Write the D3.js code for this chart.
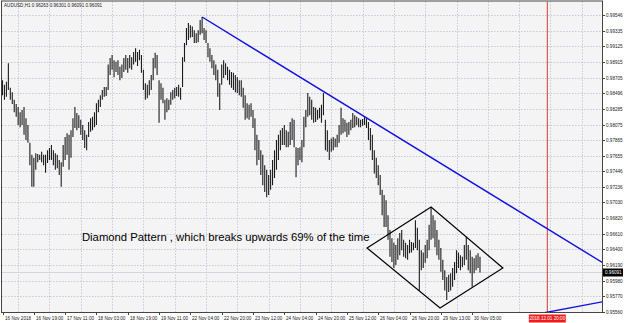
<!DOCTYPE html>
<html>
<head>
<meta charset="utf-8">
<script src="https://cdn.jsdelivr.net/npm/d3@7"></script>
<style>
body { margin: 0; background: #fff; }
text { font-family: "Liberation Sans", Arial, sans-serif; }
</style>
</head>
<body>
<svg width="625" height="323"></svg>
<script>
// chart values

var symbolTitle = 'AUDUSD,H1  0.96263 0.96301 0.96091 0.96091';

// one label every 16 bars
var timeLabels = ['16 Nov 2018', '16 Nov 19:00', '17 Nov 11:00', '18 Nov 03:00',
    '18 Nov 19:00', '19 Nov 11:00', '22 Nov 04:00', '22 Nov 20:00', '23 Nov 12:00',
    '24 Nov 04:00', '24 Nov 20:00', '25 Nov 12:00', '26 Nov 04:00', '26 Nov 20:00',
    '29 Nov 13:00', '30 Nov 05:00'];

var priceTicks = [0.99546, 0.99335, 0.99125, 0.98915, 0.98705, 0.98496, 0.98285,
    0.98075, 0.97865, 0.97655, 0.97446, 0.97236, 0.97030, 0.96820, 0.96610,
    0.96400, 0.96190, 0.95980, 0.95770, 0.95560];

var barHigh = [
    .9867, .9861, .9865, .9890, .9857, .9851, .9841, .9835, .9831, .9824, .9827, .9831, .9816, .9807, .9783, .9767,
    .9763, .9769, .9768, .9767, .9771, .9767, .9767, .9773, .9776, .9780, .9773, .9769, .9767, .9760, .9757, .9780,
    .9791, .9796, .9794, .9800, .9816, .9831, .9823, .9820, .9814, .9807, .9800, .9794, .9811, .9816, .9818, .9824,
    .9836, .9841, .9847, .9854, .9858, .9858, .9888, .9897, .9901, .9894, .9892, .9894, .9885, .9888, .9897, .9901,
    .9897, .9901, .9898, .9905, .9910, .9905, .9908, .9901, .9881, .9863, .9861, .9867, .9874, .9897, .9904, .9901,
    .9867, .9863, .9857, .9841, .9843, .9841, .9851, .9854, .9857, .9858, .9861, .9857, .9898, .9917, .9937, .9944,
    .9941, .9939, .9934, .9930, .9934, .9948, .9952, .9937, .9934, .9917, .9910, .9901, .9894, .9888, .9881, .9863,
    .9888, .9894, .9890, .9885, .9881, .9878, .9877, .9874, .9871, .9867, .9867, .9857, .9847, .9836, .9834, .9836,
    .9827, .9816, .9794, .9787, .9773, .9767, .9753, .9747, .9740, .9747, .9760, .9773, .9787, .9794, .9800, .9803,
    .9807, .9800, .9798, .9811, .9816, .9814, .9777, .9776, .9777, .9787, .9818, .9827, .9850, .9845, .9841, .9831,
    .9830, .9827, .9830, .9834, .9850, .9814, .9800, .9787, .9789, .9791, .9789, .9794, .9807, .9830, .9816, .9814,
    .9810, .9811, .9814, .9823, .9820, .9818, .9816, .9814, .9815, .9818, .9816, .9811, .9803, .9794, .9773, .9763,
    .9753, .9740, .9720, .9713, .9706, .9686, .9666, .9655, .9649, .9646, .9655, .9662, .9666, .9653, .9649, .9646,
    .9653, .9650, .9649, .9679, .9669, .9653, .9639, .9636, .9646, .9653, .9673, .9697, .9686, .9679, .9666, .9653,
    .9642, .9626, .9612, .9603, .9606, .9608, .9615, .9623, .9639, .9636, .9632, .9630, .9646, .9657, .9646, .9639,
    .9630, .9628, .9632, .9635, .96301];

var barLow = [
    .9847, .9841, .9845, .9854, .9841, .9835, .9824, .9818, .9807, .9804, .9807, .9794, .9787, .9783, .9753, .9724,
    .9724, .9747, .9757, .9760, .9757, .9753, .9743, .9756, .9760, .9760, .9753, .9747, .9749, .9740, .9724, .9751,
    .9760, .9767, .9747, .9763, .9791, .9803, .9800, .9803, .9794, .9787, .9776, .9773, .9791, .9798, .9800, .9804,
    .9807, .9824, .9831, .9841, .9845, .9846, .9854, .9874, .9881, .9871, .9878, .9874, .9867, .9870, .9878, .9881,
    .9877, .9883, .9881, .9888, .9892, .9886, .9894, .9877, .9854, .9841, .9843, .9847, .9854, .9867, .9883, .9874,
    .9810, .9841, .9836, .9814, .9824, .9827, .9834, .9841, .9843, .9846, .9845, .9841, .9858, .9892, .9914, .9921,
    .9924, .9925, .9917, .9917, .9918, .9928, .9930, .9921, .9917, .9898, .9892, .9883, .9874, .9867, .9845, .9827,
    .9861, .9870, .9874, .9867, .9861, .9857, .9854, .9851, .9850, .9847, .9845, .9830, .9814, .9816, .9814, .9818,
    .9803, .9773, .9753, .9760, .9740, .9726, .9717, .9710, .9713, .9720, .9726, .9736, .9747, .9760, .9773, .9780,
    .9780, .9777, .9777, .9780, .9787, .9777, .9737, .9753, .9760, .9757, .9777, .9804, .9818, .9820, .9814, .9810,
    .9811, .9814, .9816, .9810, .9820, .9773, .9771, .9760, .9771, .9773, .9777, .9777, .9783, .9794, .9796, .9798,
    .9791, .9794, .9800, .9803, .9804, .9807, .9804, .9804, .9806, .9807, .9803, .9787, .9773, .9760, .9742, .9736,
    .9726, .9713, .9686, .9670, .9670, .9653, .9630, .9623, .9615, .9619, .9626, .9632, .9639, .9630, .9628, .9626,
    .9635, .9636, .9639, .9642, .9639, .9585, .9612, .9615, .9622, .9628, .9639, .9653, .9655, .9643, .9632, .9626,
    .9610, .9599, .9585, .9572, .9583, .9585, .9590, .9599, .9608, .9615, .9612, .9616, .9619, .9626, .9612, .9608,
    .9590, .9608, .9612, .9615, .96091];

var lastPrice = 0.96091;

// drawn objects: [bar index, price]
var mainTrend = [[102, 0.99519], [166, 0.98488]];
var lowerTrend = [[276, 0.95546], [306, 0.95694]];
var diamondPoints = [[186.3, 0.96419], [219, 0.96969], [255.7, 0.96150], [223.6, 0.95614]];
var cursorBar = 278.4;
var cursorLabel = '2018.12.01 20:00';
var noteText = 'Diamond Pattern , which breaks upwards 69% of the time';
var noteBar = 40.6;
var notePrice = 0.96513;

var svg = d3.select('svg');
var plot = {l: 2, t: 1.5, r: 602, b: 312};
var barsPerLabel = 16;

var xScale = d3.scaleLinear().domain([0, 306.5]).range([2.5, 602.3]);
var yScale = d3.scaleLinear().domain([0.95560, 0.99546]).range([312, 15]);

svg.append('rect')
    .attr('x', plot.l).attr('y', plot.t)
    .attr('width', plot.r - plot.l).attr('height', plot.b - plot.t)
    .attr('fill', '#f4f4f4');

svg.append('clipPath').attr('id', 'plotClip')
    .append('rect')
    .attr('x', plot.l).attr('y', plot.t)
    .attr('width', plot.r - plot.l).attr('height', plot.b - plot.t);

var gridG = svg.append('g').attr('class', 'grid');

// horizontal grid on the price ticks
gridG.selectAll('.hgrid')
    .data(priceTicks)
    .enter().append('line')
    .attr('x1', plot.l).attr('x2', plot.r)
    .attr('y1', function(d) { return Math.round(yScale(d)) + 0.5; })
    .attr('y2', function(d) { return Math.round(yScale(d)) + 0.5; })
    .attr('stroke', '#c9c9da')
    .attr('stroke-dasharray', '1.5,1.5');

// vertical grid sits halfway between time labels
var gridBars = d3.range(barsPerLabel / 2, 306, barsPerLabel);
gridG.selectAll('.vgrid')
    .data(gridBars)
    .enter().append('line')
    .attr('x1', function(d) { return Math.round(xScale(d)) + 0.5; })
    .attr('x2', function(d) { return Math.round(xScale(d)) + 0.5; })
    .attr('y1', plot.t).attr('y2', plot.b)
    .attr('stroke', '#c9c9da')
    .attr('stroke-dasharray', '1.5,1.5');

var chartG = svg.append('g').attr('clip-path', 'url(#plotClip)');

// bid line
chartG.append('line')
    .attr('x1', plot.l).attr('x2', plot.r)
    .attr('y1', Math.round(yScale(lastPrice)) + 0.5)
    .attr('y2', Math.round(yScale(lastPrice)) + 0.5)
    .attr('stroke', '#d4d4dc');

// cursor line
chartG.append('line')
    .attr('x1', xScale(cursorBar)).attr('x2', xScale(cursorBar))
    .attr('y1', plot.t).attr('y2', plot.b)
    .attr('stroke', '#d03a36')
    .attr('stroke-width', 1);

chartG.selectAll('.bar')
    .data(barHigh)
    .enter().append('line')
    .attr('class', 'bar')
    .attr('x1', function(d, i) { return xScale(i); })
    .attr('x2', function(d, i) { return xScale(i); })
    .attr('y1', function(d) { return yScale(d); })
    .attr('y2', function(d, i) { return yScale(barLow[i]); })
    .attr('stroke', '#1c1c1c')
    .attr('stroke-width', 1.1);

// trend lines are rays, extend them to the plot edges
function rayPoints(pts, extendLeft) {
    var slope = (pts[1][1] - pts[0][1]) / (pts[1][0] - pts[0][0]);
    var endBar = xScale.domain()[1];
    var startBar = extendLeft ? pts[0][0] - 60 : pts[0][0];
    return [[startBar, pts[0][1] + slope * (startBar - pts[0][0])],
            [endBar, pts[0][1] + slope * (endBar - pts[0][0])]];
}

var line = d3.line()
    .x(function(d) { return xScale(d[0]); })
    .y(function(d) { return yScale(d[1]); });

chartG.append('path')
    .attr('d', line(rayPoints(mainTrend, false)))
    .attr('fill', 'none')
    .attr('stroke', '#1010e0')
    .attr('stroke-width', 1.4);

chartG.append('path')
    .attr('d', line(rayPoints(lowerTrend, true)))
    .attr('fill', 'none')
    .attr('stroke', '#1010e0')
    .attr('stroke-width', 1.4);

chartG.append('path')
    .attr('d', line(diamondPoints) + 'Z')
    .attr('fill', 'none')
    .attr('stroke', '#000')
    .attr('stroke-width', 1.2);

chartG.append('text')
    .attr('x', xScale(noteBar))
    .attr('y', yScale(notePrice))
    .attr('font-size', 11.3)
    .attr('fill', '#000')
    .text(noteText);

svg.append('text')
    .attr('x', 4).attr('y', 7.2)
    .attr('font-size', 4.6)
    .attr('fill', '#222')
    .text(symbolTitle);

// frame
svg.append('rect')
    .attr('x', plot.l - 0.5).attr('y', plot.t - 0.5)
    .attr('width', plot.r - plot.l + 1).attr('height', plot.b - plot.t + 1)
    .attr('fill', 'none')
    .attr('stroke', '#444');

// price axis on the right
var yAxisG = svg.append('g');
yAxisG.selectAll('.ytick')
    .data(priceTicks)
    .enter().append('g')
    .attr('transform', function(d) { return 'translate(' + plot.r + ',' + (Math.round(yScale(d)) + 0.5) + ')'; })
    .each(function(d) {
        var g = d3.select(this);
        g.append('line').attr('x1', 0).attr('x2', 3).attr('stroke', '#444');
        g.append('text').attr('x', 4).attr('y', 1.6)
            .attr('font-size', 4.6).attr('fill', '#222')
            .text(d.toFixed(5));
    });

// current price box
var lastY = Math.round(yScale(lastPrice)) + 0.5;
svg.append('rect')
    .attr('x', plot.r + 1).attr('y', lastY - 4)
    .attr('width', 20).attr('height', 8)
    .attr('fill', '#000');
svg.append('text')
    .attr('x', plot.r + 3).attr('y', lastY + 1.6)
    .attr('font-size', 4.6).attr('fill', '#fff')
    .text(lastPrice.toFixed(5));

// time axis at the bottom
var xAxisG = svg.append('g');
xAxisG.selectAll('.xtick')
    .data(timeLabels)
    .enter().append('g')
    .attr('transform', function(d, i) { return 'translate(' + (Math.round(xScale(i * barsPerLabel)) + 0.5) + ',' + plot.b + ')'; })
    .each(function(d) {
        var g = d3.select(this);
        g.append('line').attr('y1', 0).attr('y2', 3).attr('stroke', '#444');
        g.append('text').attr('x', 1.5).attr('y', 7.5)
            .attr('font-size', 4.6).attr('fill', '#222')
            .text(d);
    });

// cursor time label
var cx = xScale(cursorBar);
svg.append('rect')
    .attr('x', cx - 18.5).attr('y', plot.b + 2.5)
    .attr('width', 37).attr('height', 8)
    .attr('fill', '#ee1c1c');
svg.append('text')
    .attr('x', cx).attr('y', plot.b + 8.2)
    .attr('text-anchor', 'middle')
    .attr('font-size', 4.6).attr('fill', '#fff')
    .text(cursorLabel);
</script>
</body>
</html>
